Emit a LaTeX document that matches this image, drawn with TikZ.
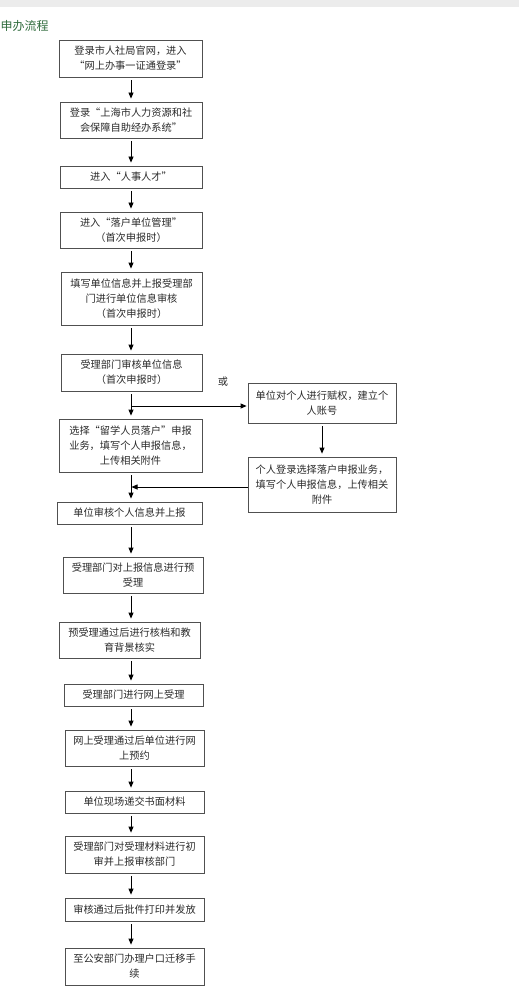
\documentclass[tikz,border=0pt]{standalone}
\usepackage{fontspec}
\newfontfamily\cjk{Noto Sans CJK SC}
\usetikzlibrary{arrows.meta}
\definecolor{bordc}{HTML}{505050}
\definecolor{txtc}{HTML}{2A2A2A}
\definecolor{titc}{HTML}{2F6B3C}
\definecolor{bandc}{HTML}{ECECEC}
\tikzset{
  box/.style={draw=bordc, line width=0.8pt, text=txtc, align=center, inner sep=0pt,
    font=\cjk\fontsize{10.2}{15}\selectfont},
  arr/.style={draw=black, line width=0.8pt, -{Triangle[length=6pt,width=5pt]}},
  gap/.style={shorten <=3pt, shorten >=3pt}
}
\begin{document}
\begin{tikzpicture}[x=1pt,y=-1pt]
\useasboundingbox (0,0) rectangle (519,1000);
\fill[bandc] (0,0) rectangle (519,7);
\node[anchor=west, inner sep=0pt, text=titc, font=\cjk\fontsize{12}{14}\selectfont] (title) at (0.5,26) {申办流程};

\node[box, minimum width=143pt, minimum height=37pt] (b1) at (130.5,58.5) {登录市人社局官网，进入\\“网上办事一证通登录”};
\node[box, minimum width=142pt, minimum height=36pt] (b2) at (131,120) {登录“上海市人力资源和社\\会保障自助经办系统”};
\node[box, minimum width=142pt, minimum height=22pt] (b3) at (131,177) {进入“人事人才”};
\node[box, minimum width=142pt, minimum height=36pt] (b4) at (131,230) {进入“落户单位管理”\\（首次申报时）};
\node[box, minimum width=141pt, minimum height=53pt] (b5) at (131.5,298.5) {填写单位信息并上报受理部\\门进行单位信息审核\\（首次申报时）};
\node[box, minimum width=141pt, minimum height=37pt] (b6) at (131.5,372.5) {受理部门审核单位信息\\（首次申报时）};
\node[box, minimum width=143pt, minimum height=53pt] (b7) at (130.5,445.5) {选择“留学人员落户”申报\\业务，填写个人申报信息，\\上传相关附件};
\node[box, minimum width=148pt, minimum height=40pt] (r1) at (322,403) {单位对个人进行赋权，建立个\\人账号};
\node[box, minimum width=148pt, minimum height=55pt] (r2) at (322,484.5) {个人登录选择落户申报业务，\\填写个人申报信息，上传相关\\附件};
\node[box, minimum width=145pt, minimum height=22pt] (b8) at (129.5,513) {单位审核个人信息并上报};
\node[box, minimum width=140pt, minimum height=36pt] (b9) at (133,575) {受理部门对上报信息进行预\\受理};
\node[box, minimum width=141pt, minimum height=36pt] (b10) at (129.5,640) {预受理通过后进行核档和教\\育背景核实};
\node[box, minimum width=139pt, minimum height=22pt] (b11) at (133.5,695) {受理部门进行网上受理};
\node[box, minimum width=139pt, minimum height=36pt] (b12) at (134.5,748) {网上受理通过后单位进行网\\上预约};
\node[box, minimum width=139pt, minimum height=22pt] (b13) at (134.5,802) {单位现场递交书面材料};
\node[box, minimum width=139pt, minimum height=37pt] (b14) at (134.5,854.5) {受理部门对受理材料进行初\\审并上报审核部门};
\node[box, minimum width=139pt, minimum height=23pt] (b15) at (134.5,909.5) {审核通过后批件打印并发放};
\node[box, minimum width=139pt, minimum height=37pt] (b16) at (134.5,966.5) {至公安部门办理户口迁移手\\续};

\node[text=txtc, font=\cjk\fontsize{10.2}{12}\selectfont, inner sep=0pt] (or) at (223,382) {或};

\coordinate (ax) at (131,0);
\coordinate (branch) at (131,406);
\coordinate (merge) at (131,487);

\foreach \a/\b in {b1/b2,b2/b3,b3/b4,b4/b5,b5/b6,b6/b7,b7/b8,b8/b9,b9/b10,b10/b11,b11/b12,b12/b13,b13/b14,b14/b15,b15/b16}
  \draw[arr,gap] (\a.south -| ax) -- (\b.north -| ax);

\draw[arr, shorten >=1pt] (branch) -- (branch -| r1.west);
\draw[arr,gap] (r1.south) -- (r2.north);
\draw[arr, shorten >=0.5pt] (merge -| r2.west) -- (merge);
\end{tikzpicture}
\end{document}
